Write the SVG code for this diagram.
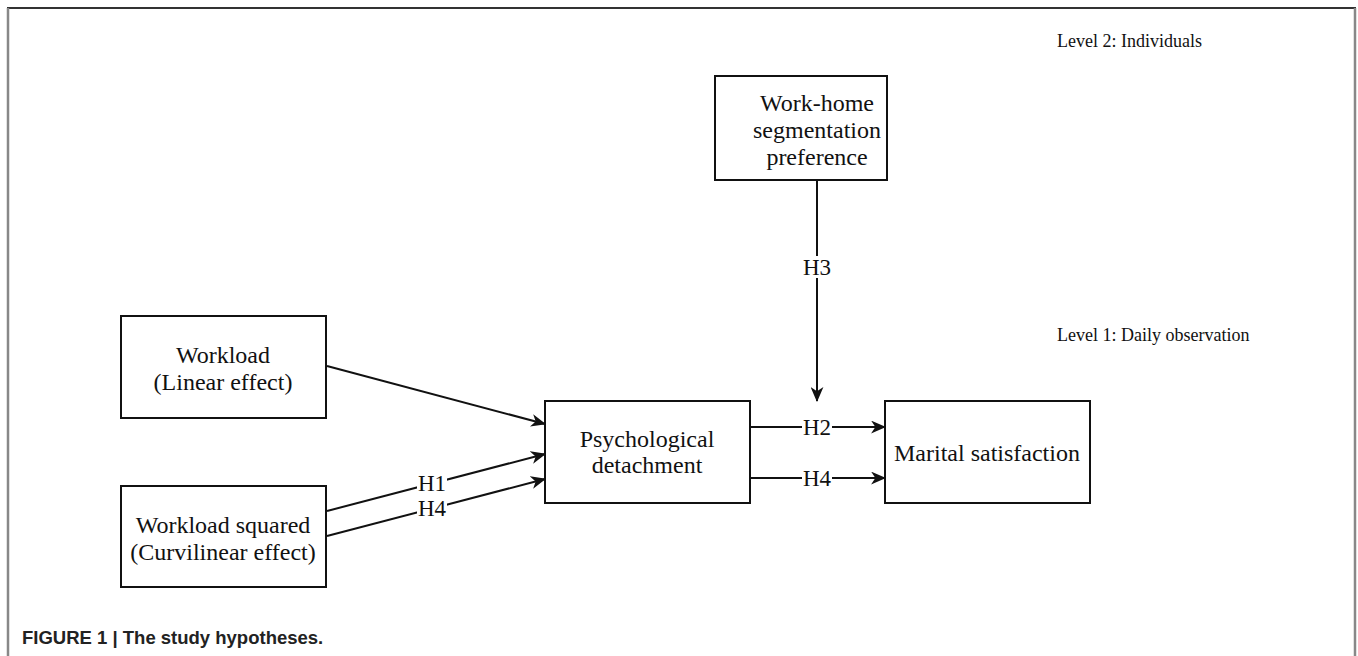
<svg xmlns="http://www.w3.org/2000/svg" width="1358" height="656" viewBox="0 0 1358 656">
<style>
.box{fill:#fff;stroke:#111;stroke-width:2}
.t{font-family:"Liberation Serif","Times New Roman",serif;font-size:24px;fill:#111;text-anchor:middle}
.lv{font-family:"Liberation Serif","Times New Roman",serif;font-size:18px;fill:#111}
.lb{font-family:"Liberation Serif","Times New Roman",serif;font-size:23px;fill:#111;text-anchor:middle}
.c{stroke:#111;stroke-width:2;fill:none;marker-end:url(#ah)}
.bg{fill:#fff}
</style>
<defs>
<marker id="ah" viewBox="0 0 14 12" refX="13" refY="6" markerWidth="15" markerHeight="13" markerUnits="userSpaceOnUse" orient="auto">
<path d="M0,0 L14,6 L0,12 L4,6 Z" fill="#111"/>
</marker>
</defs>
<rect x="0" y="0" width="1358" height="656" fill="#fff"/>
<g id="frame">
<line x1="7" y1="8" x2="1356" y2="8" stroke="#333" stroke-width="2"/>
<line x1="8" y1="8" x2="8" y2="656" stroke="#888" stroke-width="2.5"/>
<line x1="1355" y1="8" x2="1355" y2="656" stroke="#888" stroke-width="2.5"/>
</g>
<text class="lv" x="1057" y="47">Level 2: Individuals</text>
<text class="lv" x="1057" y="341">Level 1: Daily observation</text>
<g id="n-segmentation">
<rect class="box" x="715" y="76" width="172" height="104"/>
<text class="t" x="817" y="111">Work-home</text>
<text class="t" x="817" y="138">segmentation</text>
<text class="t" x="817" y="165">preference</text>
</g>
<g id="n-workload">
<rect class="box" x="121" y="316" width="205" height="102"/>
<text class="t" x="223" y="363">Workload</text>
<text class="t" x="223" y="390">(Linear effect)</text>
</g>
<g id="n-workload-squared">
<rect class="box" x="121" y="486" width="205" height="101"/>
<text class="t" x="223" y="533">Workload squared</text>
<text class="t" x="223" y="560">(Curvilinear effect)</text>
</g>
<g id="n-detachment">
<rect class="box" x="545" y="401" width="205" height="102"/>
<text class="t" x="647" y="447">Psychological</text>
<text class="t" x="647" y="473">detachment</text>
</g>
<g id="n-marital">
<rect class="box" x="885" y="401" width="205" height="102"/>
<text class="t" x="987" y="461">Marital satisfaction</text>
</g>
<g id="connectors">
<line class="c" x1="327" y1="366" x2="545" y2="424"/>
<line class="c" x1="327" y1="511" x2="545" y2="454"/>
<line class="c" x1="327" y1="536" x2="545" y2="479"/>
<line class="c" x1="750" y1="427" x2="885" y2="427"/>
<line class="c" x1="750" y1="478" x2="885" y2="478"/>
<line class="c" x1="817" y1="180" x2="817" y2="401"/>
<rect class="bg" x="417" y="472" width="30" height="20"/>
<text class="lb" x="432" y="491">H1</text>
<rect class="bg" x="417" y="498" width="30" height="20"/>
<text class="lb" x="432" y="516">H4</text>
<rect class="bg" x="802" y="417" width="30" height="20"/>
<text class="lb" x="817" y="435">H2</text>
<rect class="bg" x="802" y="468" width="30" height="20"/>
<text class="lb" x="817" y="486">H4</text>
<rect class="bg" x="802" y="256" width="30" height="22"/>
<text class="lb" x="817" y="275">H3</text>
</g>
<text x="22" y="644" font-family="'Liberation Sans',Arial,sans-serif" font-weight="bold" font-size="18.5" fill="#222">FIGURE 1 | The study hypotheses.</text>
</svg>
